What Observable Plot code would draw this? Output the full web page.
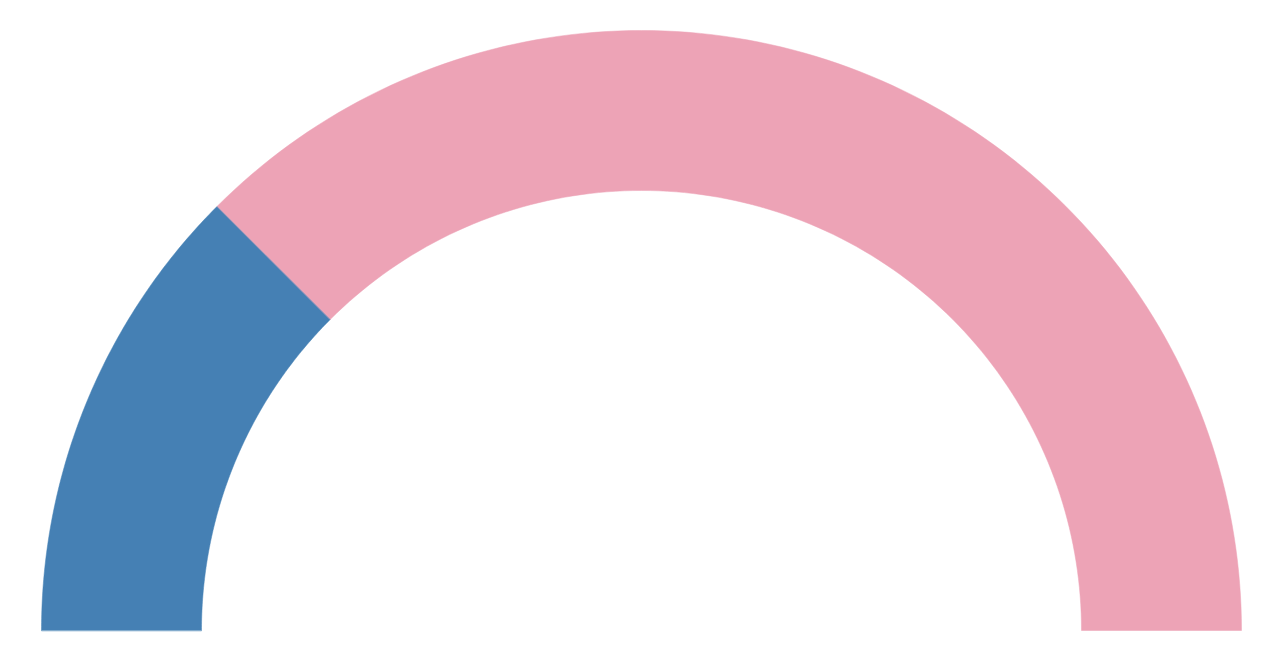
<!DOCTYPE html>
<html>
<head>
<meta charset="utf-8">
<script src="https://cdn.jsdelivr.net/npm/d3@7"></script>
<script src="https://cdn.jsdelivr.net/npm/@observablehq/plot@0.6"></script>
<style>
  html, body { margin: 0; padding: 0; background: #fff; overflow: hidden; }
</style>
</head>
<body>
<div id="chart"></div>
<script>
const categories = ["Done", "Remaining"];
const values = [25, 75];
const colors = ["#4580b4", "#eda3b6"];

const innerRatio = 440 / 600;
const total = d3.sum(values);

// Build arc polygons from values (angle from 180° to 0°)
const points = [];
let acc = 0;
categories.forEach((c, i) => {
  const a0 = Math.PI - (acc / total) * Math.PI;
  acc += values[i];
  const a1 = Math.PI - (acc / total) * Math.PI;
  const n = 120;
  for (let k = 0; k <= n; k++) {
    const a = a0 + (a1 - a0) * k / n;
    points.push({cat: c, x: Math.cos(a), y: Math.sin(a)});
  }
  for (let k = n; k >= 0; k--) {
    const a = a0 + (a1 - a0) * k / n;
    points.push({cat: c, x: innerRatio * Math.cos(a), y: innerRatio * Math.sin(a)});
  }
});

const W = 1278, H = 664, cx = 641, cy = 630, R = 600;
const chart = Plot.plot({
  width: W,
  height: H,
  margin: 0,
  x: {domain: [-cx / R, (W - cx) / R], axis: null},
  y: {domain: [-(H - cy) / R, cy / R], axis: null},
  color: {domain: categories, range: colors},
  marks: [
    Plot.line(points, {x: "x", y: "y", z: "cat", fill: "cat", stroke: "cat", strokeWidth: 0.5, curve: "linear-closed"})
  ]
});
document.getElementById("chart").append(chart);
</script>
</body>
</html>
